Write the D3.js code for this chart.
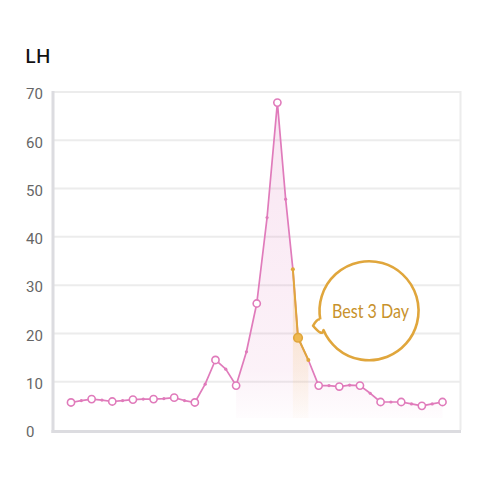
<!DOCTYPE html>
<html>
<head>
<meta charset="utf-8">
<script src="https://cdn.jsdelivr.net/npm/d3@7"></script>
<style>
  body { margin: 0; background: #fff; }
  svg { display: block; }
</style>
</head>
<body>
<svg id="chart" width="500" height="500"></svg>
<script>
// day index along the cycle (integer = measured day, .5 = in-between reading)
const days = [0, 0.5, 1, 1.5, 2, 2.5, 3, 3.5, 4, 4.5, 5, 5.5, 6, 6.5, 7, 7.5, 8, 8.5, 9, 9.5,
    10, 10.4, 10.75, 11, 11.5, 12, 12.5, 13, 13.5, 14, 14.5, 15, 15.5, 16, 16.5, 17, 17.5, 18];
const lhValues = [5.7, 6.1, 6.4, 6.2, 5.9, 6.1, 6.3, 6.4, 6.4, 6.5, 6.7, 6.1, 5.7, 9.5, 14.5, 12.6, 9.2, 16.2, 26.2, 44.0,
    67.8, 47.8, 33.3, 19.1, 14.5, 9.2, 9.2, 9.0, 9.3, 9.2, 7.6, 5.8, 5.8, 5.8, 5.4, 5.0, 5.4, 5.8];
const yTicks = [0, 10, 20, 30, 40, 50, 60, 70];
const bestDays = [10.75, 11, 11.5];   // highlighted "best" window
const bestPeak = 11;
const fillFrom = 8;
const title = "LH";
const calloutText = "Best 3 Day";

const pink = "#e07bbb", orange = "#e0a63c";

let svg = d3.select("#chart");
let data = days.map((d, i) => ({day: d, v: lhValues[i], major: Number.isInteger(d)}));

let x = d3.scaleLinear().domain([0, 18]).range([71, 442.5]);
let y = d3.scaleLinear().domain([0, 70]).range([430, 92]);

let defs = svg.append("defs");
let gPink = defs.append("linearGradient").attr("id", "pinkFill")
    .attr("gradientUnits", "userSpaceOnUse").attr("x1", 0).attr("x2", 0).attr("y1", y(70)).attr("y2", y(2.5));
gPink.append("stop").attr("offset", 0).attr("stop-color", pink).attr("stop-opacity", 0.2);
gPink.append("stop").attr("offset", 0.85).attr("stop-color", pink).attr("stop-opacity", 0.1);
gPink.append("stop").attr("offset", 1).attr("stop-color", pink).attr("stop-opacity", 0.02);

let gOrange = defs.append("linearGradient").attr("id", "orangeFill")
    .attr("gradientUnits", "userSpaceOnUse").attr("x1", 0).attr("x2", 0).attr("y1", y(33)).attr("y2", y(2.5));
gOrange.append("stop").attr("offset", 0).attr("stop-color", "#f2c46a").attr("stop-opacity", 0.4);
gOrange.append("stop").attr("offset", 1).attr("stop-color", "#f2c46a").attr("stop-opacity", 0.03);

// title
svg.append("text").attr("x", 25).attr("y", 63)
    .style("font-family", "Noto Sans").style("font-size", "20px").style("font-weight", 500)
    .attr("fill", "#111").text(title);

// gridlines
svg.append("g").selectAll("line")
    .data(yTicks.filter(t => t > 0))
    .enter().append("line")
    .attr("x1", 53).attr("x2", 460)
    .attr("y1", d => y(d)).attr("y2", d => y(d))
    .attr("stroke", "#ececec").attr("stroke-width", 2);

// right border
svg.append("line").attr("x1", 460.5).attr("x2", 460.5).attr("y1", y(70) - 1).attr("y2", y(0))
    .attr("stroke", "#ececec").attr("stroke-width", 2);

// y axis labels
let yAxis = svg.append("g").attr("transform", "translate(53,0)")
    .call(d3.axisLeft(y).tickValues(yTicks).tickSize(0));
yAxis.select(".domain").remove();
yAxis.selectAll("text")
    .attr("x", -27).attr("dy", "0.45em")
    .attr("text-anchor", "start")
    .attr("fill", "#666")
    .style("font-family", "Roboto").style("font-size", "15px");

// axis lines
svg.append("line").attr("x1", 53).attr("x2", 53).attr("y1", y(70) - 1).attr("y2", 433)
    .attr("stroke", "#dcdce0").attr("stroke-width", 3);
svg.append("line").attr("x1", 51.5).attr("x2", 461).attr("y1", 431.5).attr("y2", 431.5)
    .attr("stroke", "#dcdce0").attr("stroke-width", 3);

// soft fills under the curve
let area = d3.area().x(d => x(d.day)).y0(y(2.5)).y1(d => y(d.v));
svg.append("path").datum(data.filter(d => d.day >= fillFrom))
    .attr("d", area).attr("fill", "url(#pinkFill)");
let best = data.filter(d => bestDays.includes(d.day));
svg.append("path").datum(best)
    .attr("d", area).attr("fill", "url(#orangeFill)");

// lines
let line = d3.line().x(d => x(d.day)).y(d => y(d.v));
svg.append("path").datum(data)
    .attr("d", line).attr("fill", "none")
    .attr("stroke", pink).attr("stroke-width", 1.7).attr("stroke-linejoin", "round");
svg.append("path").datum(best)
    .attr("d", line).attr("fill", "none")
    .attr("stroke", orange).attr("stroke-width", 2).attr("stroke-linejoin", "round");

// markers
svg.append("g").selectAll("circle")
    .data(data)
    .enter().append("circle")
    .attr("cx", d => x(d.day))
    .attr("cy", d => y(d.v))
    .attr("r", d => {
        if (d.day === bestPeak) return 4.3;
        if (bestDays.includes(d.day)) return 2;
        return d.major ? 3.6 : 1.6;
    })
    .attr("fill", d => {
        if (d.day === bestPeak) return "#efb850";
        if (bestDays.includes(d.day)) return orange;
        return d.major ? "#fff" : pink;
    })
    .attr("stroke", d => bestDays.includes(d.day) ? orange : pink)
    .attr("stroke-width", d => (d.major || d.day === bestPeak) ? 1.6 : 0);

// callout bubble anchored to the best point
let ax = x(bestPeak), ay = y(lhValues[days.indexOf(bestPeak)]);
let cx = ax + 71, cy = ay - 27, r = 49.5;
let tip = [ax + 15, ay - 12];
let a1 = 157 * Math.PI / 180, a2 = 170 * Math.PI / 180;
let p1 = [cx + r * Math.cos(a1), cy + r * Math.sin(a1)];
let p2 = [cx + r * Math.cos(a2), cy + r * Math.sin(a2)];
let bubble = d3.path();
bubble.moveTo(p2[0], p2[1]);
bubble.arc(cx, cy, r, a2, a1 + 2 * Math.PI, false);
bubble.quadraticCurveTo(p1[0] - 1, p1[1] + 7, tip[0], tip[1]);
bubble.quadraticCurveTo(p2[0] - 3, p2[1] - 1, p2[0], p2[1]);
svg.append("path").attr("d", bubble.toString())
    .attr("fill", "#fff").attr("stroke", orange).attr("stroke-width", 2.6)
    .attr("stroke-linejoin", "round");
svg.append("text").attr("x", cx + 1.5).attr("y", cy + 7)
    .attr("text-anchor", "middle")
    .attr("textLength", 77).attr("lengthAdjust", "spacingAndGlyphs")
    .style("font-family", "Lato").style("font-size", "19px")
    .attr("fill", "#c8922c").text(calloutText);
</script>
</body>
</html>
